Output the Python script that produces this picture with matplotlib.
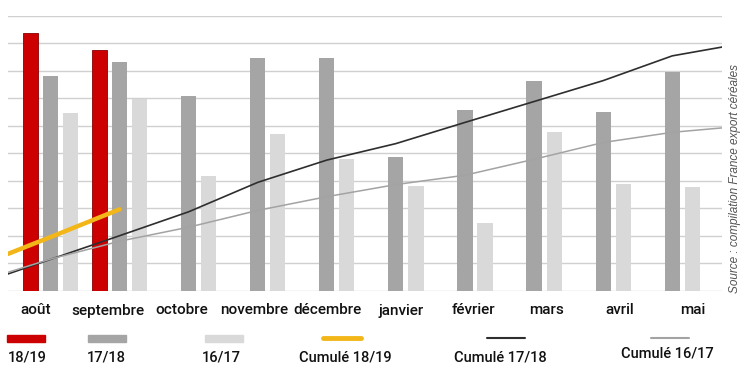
import matplotlib
matplotlib.use("Agg")
import matplotlib.pyplot as plt
import numpy as np
from matplotlib.lines import Line2D
from matplotlib.patches import Rectangle

# monthly exports (grid units)
months = ["août", "septembre", "octobre", "novembre", "décembre",
          "janvier", "février", "mars", "avril", "mai"]
v1819 = [9.38, 8.76]
v1718 = [7.82, 8.33, 7.09, 8.47, 8.47, 4.87, 6.58, 7.64, 6.51, 7.96]
v1617 = [6.47, 6.98, 4.18, 5.71, 4.80, 3.82, 2.48, 5.79, 3.89, 3.78]

# cumulative curves: value at left edge, then at each month, then at right edge
cum1819 = [1.35, 1.96, 2.97]
cum1718 = [0.62, 1.15, 2.01, 2.88, 3.95, 4.76, 5.36, 6.13, 6.89, 7.65, 8.55, 8.87]
cum1617 = [0.68, 1.16, 1.81, 2.32, 2.93, 3.43, 3.87, 4.21, 4.79, 5.40, 5.77, 5.93]

RED = "#cc0000"
DARK = "#a5a5a5"
LIGHT = "#d9d9d9"
YELLOW = "#f2b619"
BLACK_LINE = "#2e2e2e"
GRAY_LINE = "#a3a3a3"

plt.rcParams['font.family'] = ['Roboto', 'DejaVu Sans']

fig = plt.figure(figsize=(7.47, 3.88), dpi=100)
ax = fig.add_axes([0.0107, 0.25, 0.9558, 0.7088])

x = np.arange(len(months))
w = 0.22
off = 0.29
xl, xr = -0.615, 9.72

ax.bar(x[:len(v1819)] - off, v1819, w, color=RED, edgecolor="#8a0000", linewidth=0.6, zorder=2)
ax.bar(x, v1718, w, color=DARK, zorder=2)
ax.bar(x + off, v1617, w, color=LIGHT, zorder=2)

xs = np.concatenate([[xl], x, [xr]])
ax.plot(xs[:len(cum1819)], cum1819, color=YELLOW, lw=3.2, zorder=3, solid_capstyle="round")
ax.plot(xs, cum1718, color=BLACK_LINE, lw=1.2, zorder=3)
ax.plot(xs, cum1617, color=GRAY_LINE, lw=1.1, zorder=3)

ax.set_xlim(xl, xr)
ax.set_ylim(0, 10)
ax.set_yticks(range(0, 11))
ax.yaxis.grid(True, color="#d0d0d0", lw=1)
ax.set_axisbelow(True)
ax.tick_params(axis="y", left=False, labelleft=False)
for s in ax.spines.values():
    s.set_visible(False)

label_pos = np.arange(len(months)) * 1.058 - 0.22
ax.set_xticks(label_pos)
ax.set_xticklabels(months, fontsize=11, fontweight="medium", color="#111111")
ax.tick_params(axis="x", length=0, pad=9)

fig.text(0.984, 0.541, "Source : compilation France export céréales", rotation=90,
         ha="center", va="center", fontsize=8.5, style="italic", color="#555555",
         family=["Liberation Sans", "DejaVu Sans"])

# legend: handle on top, label below
W, H = 747.0, 388.0
legend = [
    ("patch", RED, 26, 27, "18/19"),
    ("patch", DARK, 107, 106, "17/18"),
    ("patch", LIGHT, 224, 221, "16/17"),
    ("line", YELLOW, 342, 345, "Cumulé 18/19"),
    ("line", BLACK_LINE, 506, 500, "Cumulé 17/18"),
    ("line", GRAY_LINE, 670, 667, "Cumulé 16/17"),
]
for kind, col, hx, tx, lab in legend:
    if kind == "patch":
        fig.patches.append(Rectangle(((hx - 19) / W, 1 - 342 / H), 38 / W, 7 / H,
                                     transform=fig.transFigure, color=col))
    else:
        lw = 3.5 if col == YELLOW else 1.5
        fig.lines.append(Line2D([(hx - 19) / W, (hx + 19) / W], [1 - 338 / H] * 2,
                                transform=fig.transFigure, color=col, lw=lw,
                                solid_capstyle="round"))
    ty = 354 if lab == "Cumulé 16/17" else 358
    fig.text(tx / W, 1 - ty / H, lab, ha="center", va="center", fontsize=10.5,
             fontweight="medium", color="#111111")

fig.savefig("out.png", dpi=100)
